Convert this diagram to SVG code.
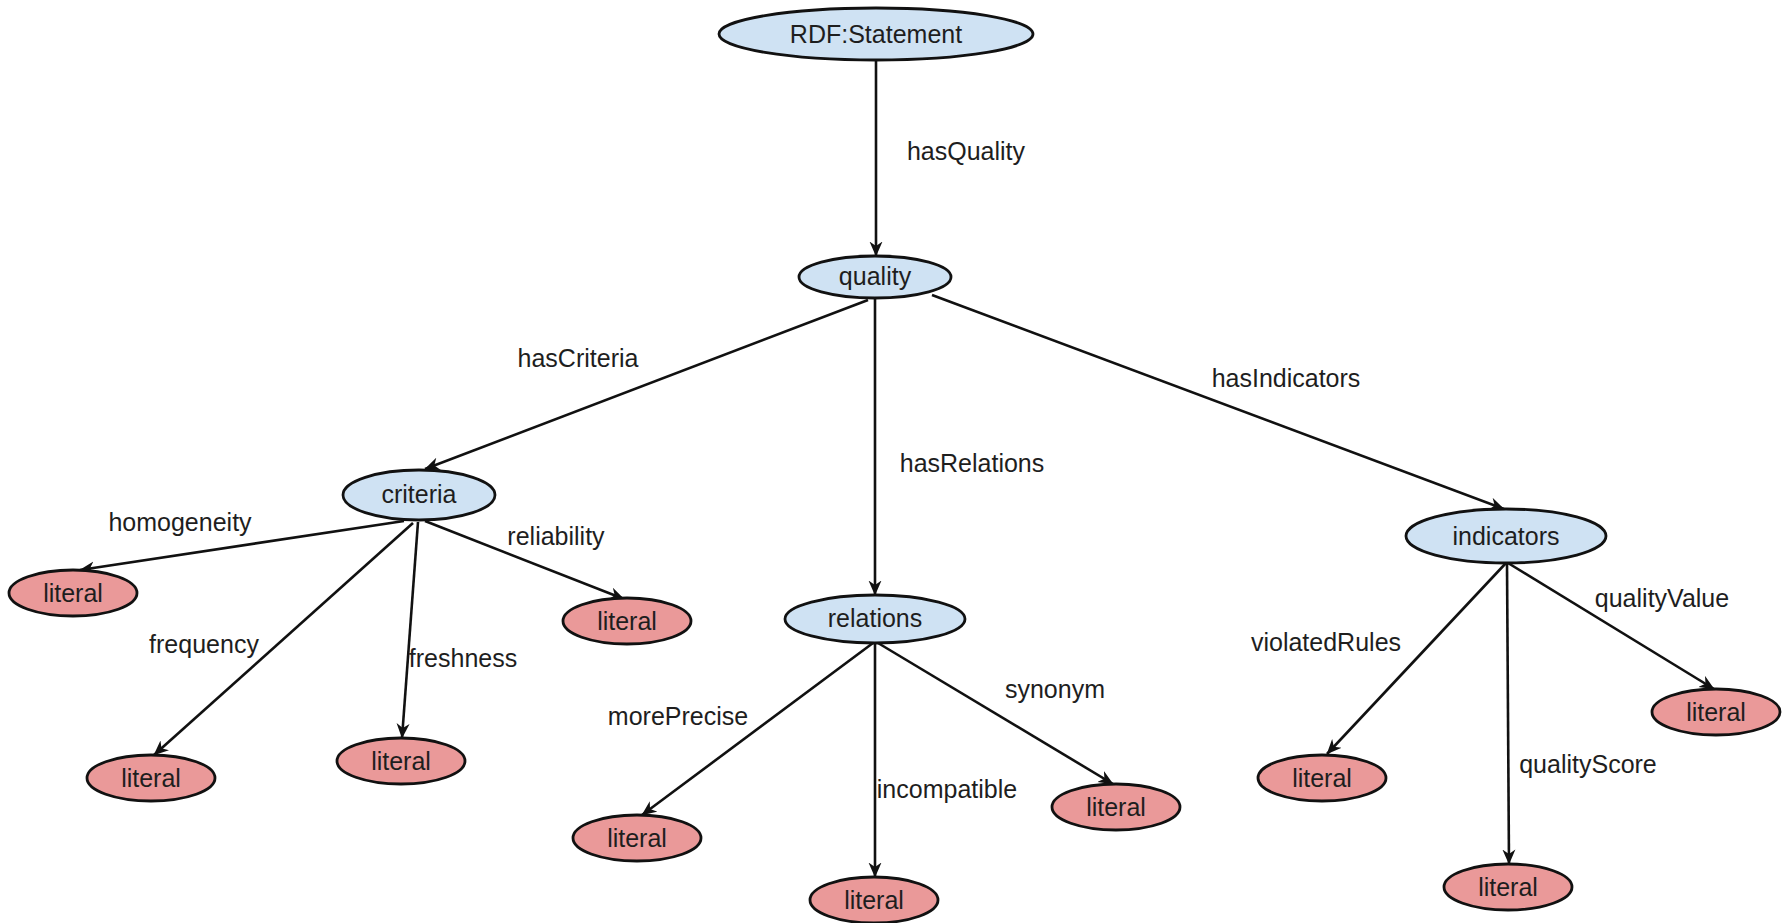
<svg xmlns="http://www.w3.org/2000/svg" width="1790" height="923" viewBox="0 0 1790 923">
  <style>
    .bg { fill: #ffffff; }
    .cls { fill: #cfe2f3; stroke: #111; stroke-width: 2.8; }
    .lit { fill: #ea9999; stroke: #111; stroke-width: 2.8; }
    .nt { font-family: "Liberation Sans", Arial, sans-serif; font-size: 25px; fill: #1e1e1e; text-anchor: middle; }
    .el { font-family: "Liberation Sans", Arial, sans-serif; font-size: 25px; fill: #1e1e1e; text-anchor: middle; }
    .edge { stroke: #111; stroke-width: 2.6; fill: none; marker-end: url(#arrow); }
  </style>
  <defs>
    <marker id="arrow" viewBox="0 0 15 14" refX="14.5" refY="7" markerWidth="15" markerHeight="14" markerUnits="userSpaceOnUse" orient="auto">
      <path d="M0,0.5 L15,7 L0,13.5 L4.5,7 z" fill="#111"/>
    </marker>
  </defs>
  <rect class="bg" x="0" y="0" width="1790" height="923"/>

  <!-- connectors -->
  <g id="connectors">
    <line class="edge" x1="876" y1="61" x2="876" y2="256"/>
    <line class="edge" x1="868" y1="300" x2="425" y2="469"/>
    <line class="edge" x1="875" y1="299" x2="875" y2="595"/>
    <line class="edge" x1="932" y1="295" x2="1504" y2="509"/>

    <line class="edge" x1="404" y1="521" x2="80" y2="570"/>
    <line class="edge" x1="413" y1="523" x2="154" y2="755"/>
    <line class="edge" x1="418" y1="522" x2="402" y2="738"/>
    <line class="edge" x1="425" y1="521" x2="624" y2="599"/>

    <line class="edge" x1="873" y1="643" x2="642" y2="815"/>
    <line class="edge" x1="875" y1="644" x2="875" y2="877"/>
    <line class="edge" x1="878" y1="643" x2="1113" y2="784"/>

    <line class="edge" x1="1506" y1="563" x2="1327" y2="754"/>
    <line class="edge" x1="1507" y1="564" x2="1509" y2="864"/>
    <line class="edge" x1="1508" y1="563" x2="1714" y2="689"/>

    <text class="el" x="966" y="160">hasQuality</text>
    <text class="el" x="578" y="367">hasCriteria</text>
    <text class="el" x="972" y="472">hasRelations</text>
    <text class="el" x="1286" y="387">hasIndicators</text>
    <text class="el" x="180" y="531">homogeneity</text>
    <text class="el" x="556" y="545">reliability</text>
    <text class="el" x="204" y="653">frequency</text>
    <text class="el" x="463" y="667">freshness</text>
    <text class="el" x="678" y="725">morePrecise</text>
    <text class="el" x="947" y="798">incompatible</text>
    <text class="el" x="1055" y="698">synonym</text>
    <text class="el" x="1326" y="651">violatedRules</text>
    <text class="el" x="1588" y="773">qualityScore</text>
    <text class="el" x="1662" y="607">qualityValue</text>
  </g>

  <!-- class nodes -->
  <g id="rdf-statement">
    <ellipse class="cls" cx="876" cy="34" rx="157" ry="26"/>
    <text class="nt" x="876" y="43">RDF:Statement</text>
  </g>
  <g id="quality">
    <ellipse class="cls" cx="875" cy="277" rx="76" ry="21"/>
    <text class="nt" x="875" y="285">quality</text>
  </g>
  <g id="criteria">
    <ellipse class="cls" cx="419" cy="495" rx="76" ry="25"/>
    <text class="nt" x="419" y="503">criteria</text>
  </g>
  <g id="relations">
    <ellipse class="cls" cx="875" cy="619" rx="90" ry="24"/>
    <text class="nt" x="875" y="627">relations</text>
  </g>
  <g id="indicators">
    <ellipse class="cls" cx="1506" cy="536" rx="100" ry="27"/>
    <text class="nt" x="1506" y="545">indicators</text>
  </g>

  <!-- literal nodes -->
  <g id="lit-homogeneity">
    <ellipse class="lit" cx="73" cy="593" rx="64" ry="23"/>
    <text class="nt" x="73" y="602">literal</text>
  </g>
  <g id="lit-reliability">
    <ellipse class="lit" cx="627" cy="621" rx="64" ry="23"/>
    <text class="nt" x="627" y="630">literal</text>
  </g>
  <g id="lit-frequency">
    <ellipse class="lit" cx="151" cy="778" rx="64" ry="23"/>
    <text class="nt" x="151" y="787">literal</text>
  </g>
  <g id="lit-freshness">
    <ellipse class="lit" cx="401" cy="761" rx="64" ry="23"/>
    <text class="nt" x="401" y="770">literal</text>
  </g>
  <g id="lit-moreprecise">
    <ellipse class="lit" cx="637" cy="838" rx="64" ry="23"/>
    <text class="nt" x="637" y="847">literal</text>
  </g>
  <g id="lit-incompatible">
    <ellipse class="lit" cx="874" cy="900" rx="64" ry="23"/>
    <text class="nt" x="874" y="909">literal</text>
  </g>
  <g id="lit-synonym">
    <ellipse class="lit" cx="1116" cy="807" rx="64" ry="23"/>
    <text class="nt" x="1116" y="816">literal</text>
  </g>
  <g id="lit-violatedrules">
    <ellipse class="lit" cx="1322" cy="778" rx="64" ry="23"/>
    <text class="nt" x="1322" y="787">literal</text>
  </g>
  <g id="lit-qualityscore">
    <ellipse class="lit" cx="1508" cy="887" rx="64" ry="23"/>
    <text class="nt" x="1508" y="896">literal</text>
  </g>
  <g id="lit-qualityvalue">
    <ellipse class="lit" cx="1716" cy="712" rx="64" ry="23"/>
    <text class="nt" x="1716" y="721">literal</text>
  </g>
</svg>
